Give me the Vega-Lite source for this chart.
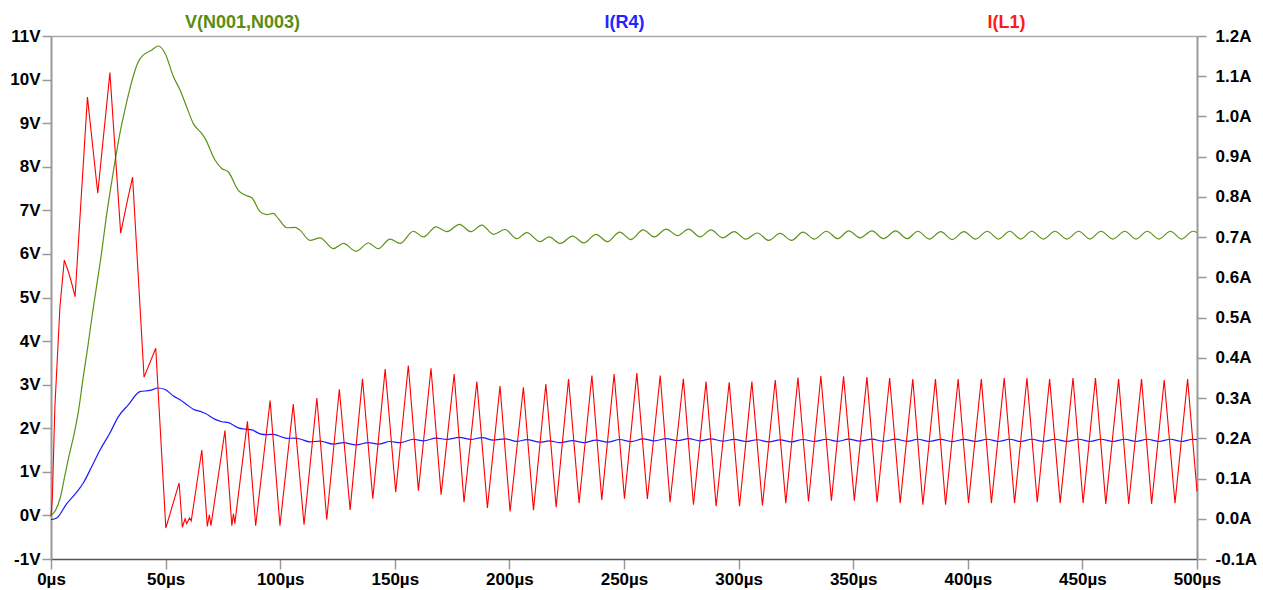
{
  "$schema": "https://vega.github.io/schema/vega-lite/v6.json",
  "autosize": {"type": "none"},
  "padding": {"left": 51, "top": 36, "right": 66, "bottom": 31},
  "width": 1146,
  "height": 523,
  "background": "white",
  "config": {
    "view": {"stroke": null},
    "font": "Liberation Sans",
    "axis": {"labelFont": "Liberation Sans", "labelFontSize": 17, "labelFontWeight": "bold", "labelColor": "#000000", "grid": false, "title": null, "tickColor": "#999999", "domainColor": "#999999", "labelFlush": false, "labelOverlap": false, "labelBound": false}
  },
  "datasets": {
    "green": [
      {"t":0,"v":0},{"t":2,"v":0.12},{"t":4,"v":0.4},{"t":6,"v":0.9},{"t":8,"v":1.4},{"t":10,"v":1.85},{"t":12,"v":2.4},{"t":14,"v":3.15},{"t":16,"v":3.85},{"t":18,"v":4.6},{"t":20,"v":5.3},{"t":22,"v":6.0},{"t":24,"v":6.8},{"t":26,"v":7.5},{"t":28,"v":8.15},{"t":30,"v":8.75},{"t":32,"v":9.25},{"t":34,"v":9.7},{"t":36,"v":10.1},{"t":38,"v":10.4},{"t":40,"v":10.55},{"t":42,"v":10.62},{"t":44,"v":10.68},{"t":46.8,"v":10.77},{"t":49.8,"v":10.6},{"t":53.4,"v":10.07},{"t":56.3,"v":9.76},{"t":59,"v":9.4},{"t":62.1,"v":8.99},{"t":65.8,"v":8.76},{"t":67.2,"v":8.65},{"t":71.6,"v":8.15},{"t":74.5,"v":7.96},{"t":77.4,"v":7.88},{"t":81.7,"v":7.46},{"t":84.7,"v":7.35},{"t":87.6,"v":7.29},{"t":91.2,"v":6.97},{"t":94.1,"v":6.9},{"t":97,"v":6.93},{"t":99.2,"v":6.81},{"t":102.9,"v":6.6},{"t":106.5,"v":6.61},{"t":108.7,"v":6.54},{"t":113,"v":6.31},{"t":117.4,"v":6.37},{"t":123.2,"v":6.12},{"t":127.6,"v":6.24},{"t":133.1,"v":6.06},{"t":138.5,"v":6.25},{"t":142.8,"v":6.12},{"t":147.9,"v":6.34},{"t":152.3,"v":6.24},{"t":158.1,"v":6.52},{"t":162.5,"v":6.39},{"t":168,"v":6.62},{"t":172.7,"v":6.51},{"t":178.2,"v":6.68},{"t":183.2,"v":6.51},{"t":188,"v":6.66},{"t":193,"v":6.45},{"t":198.1,"v":6.56},{"t":203.2,"v":6.35},{"t":207.6,"v":6.49},{"t":213.4,"v":6.28},{"t":217.3,"v":6.39},{"t":222.2,"v":6.24},{"t":227.5,"v":6.41},{"t":232.5,"v":6.25},{"t":237.8,"v":6.45},{"t":242.8,"v":6.28},{"t":248.1,"v":6.5},{"t":253.1,"v":6.33},{"t":258.3,"v":6.55},{"t":263.3,"v":6.39},{"t":268.4,"v":6.57},{"t":273.4,"v":6.42},{"t":278.2,"v":6.57},{"t":283.2,"v":6.39},{"t":288,"v":6.55},{"t":293,"v":6.37},{"t":298.1,"v":6.51},{"t":303.1,"v":6.34},{"t":308.2,"v":6.48},{"t":313.2,"v":6.31},{"t":318.1,"v":6.47},{"t":323.1,"v":6.31},{"t":328.1,"v":6.5},{"t":333.1,"v":6.34},{"t":338.3,"v":6.52},{"t":343.3,"v":6.35},{"t":348,"v":6.53},{"t":353,"v":6.37},{"t":358.2,"v":6.53},{"t":363.2,"v":6.35},{"t":368.5,"v":6.53},{"t":373.5,"v":6.35},{"t":378.2,"v":6.52},{"t":383.2,"v":6.34},{"t":388.2,"v":6.51},{"t":393.2,"v":6.33},{"t":398.3,"v":6.51},{"t":403.4,"v":6.34},{"t":408.5,"v":6.52},{"t":413.4,"v":6.34},{"t":418.3,"v":6.52},{"t":423.1,"v":6.34},{"t":427.9,"v":6.52},{"t":433,"v":6.34},{"t":438,"v":6.52},{"t":443.2,"v":6.34},{"t":448.4,"v":6.52},{"t":453.3,"v":6.34},{"t":458.1,"v":6.52},{"t":463.3,"v":6.34},{"t":468.5,"v":6.52},{"t":473.4,"v":6.34},{"t":478.3,"v":6.52},{"t":483.4,"v":6.34},{"t":488.4,"v":6.52},{"t":493.3,"v":6.34},{"t":498.2,"v":6.52},{"t":500,"v":6.49}
    ],
    "blue": [
      {"t":0,"a":-0.002},{"t":2.5,"a":0.002},{"t":6.8,"a":0.037},{"t":11.2,"a":0.066},{"t":14.1,"a":0.089},{"t":17.8,"a":0.13},{"t":21.4,"a":0.171},{"t":25.7,"a":0.213},{"t":29.4,"a":0.254},{"t":33.7,"a":0.283},{"t":38.8,"a":0.316},{"t":43.2,"a":0.319},{"t":46.8,"a":0.325},{"t":49.8,"a":0.3212},{"t":53.4,"a":0.3052},{"t":56.3,"a":0.2958},{"t":59,"a":0.2848},{"t":62.1,"a":0.2724},{"t":65.8,"a":0.2655},{"t":67.2,"a":0.2621},{"t":71.6,"a":0.247},{"t":74.5,"a":0.2412},{"t":77.4,"a":0.2388},{"t":81.7,"a":0.2261},{"t":84.7,"a":0.2227},{"t":87.6,"a":0.2209},{"t":91.2,"a":0.2112},{"t":94.1,"a":0.2091},{"t":97,"a":0.21},{"t":99.2,"a":0.2064},{"t":102.9,"a":0.2},{"t":106.5,"a":0.2003},{"t":108.7,"a":0.1982},{"t":113,"a":0.1912},{"t":117.4,"a":0.193},{"t":123.2,"a":0.1855},{"t":127.6,"a":0.1891},{"t":133.1,"a":0.1836},{"t":138.5,"a":0.1894},{"t":142.8,"a":0.1855},{"t":147.9,"a":0.1921},{"t":152.3,"a":0.1891},{"t":158.1,"a":0.1976},{"t":162.5,"a":0.1936},{"t":168,"a":0.2006},{"t":172.7,"a":0.1973},{"t":178.2,"a":0.2024},{"t":183.2,"a":0.1973},{"t":188,"a":0.2018},{"t":193,"a":0.1955},{"t":198.1,"a":0.1988},{"t":203.2,"a":0.1924},{"t":207.6,"a":0.1967},{"t":213.4,"a":0.1903},{"t":217.3,"a":0.1936},{"t":222.2,"a":0.1891},{"t":227.5,"a":0.1942},{"t":232.5,"a":0.1894},{"t":237.8,"a":0.1955},{"t":242.8,"a":0.1903},{"t":248.1,"a":0.197},{"t":253.1,"a":0.1918},{"t":258.3,"a":0.1985},{"t":263.3,"a":0.1936},{"t":268.4,"a":0.1991},{"t":273.4,"a":0.1945},{"t":278.2,"a":0.1991},{"t":283.2,"a":0.1936},{"t":288,"a":0.1985},{"t":293,"a":0.193},{"t":298.1,"a":0.1973},{"t":303.1,"a":0.1921},{"t":308.2,"a":0.1964},{"t":313.2,"a":0.1912},{"t":318.1,"a":0.1961},{"t":323.1,"a":0.1912},{"t":328.1,"a":0.197},{"t":333.1,"a":0.1921},{"t":338.3,"a":0.1976},{"t":343.3,"a":0.1924},{"t":348,"a":0.1979},{"t":353,"a":0.193},{"t":358.2,"a":0.1979},{"t":363.2,"a":0.1924},{"t":368.5,"a":0.1979},{"t":373.5,"a":0.1924},{"t":378.2,"a":0.1976},{"t":383.2,"a":0.1921},{"t":388.2,"a":0.1973},{"t":393.2,"a":0.1918},{"t":398.3,"a":0.1973},{"t":403.4,"a":0.1921},{"t":408.5,"a":0.1976},{"t":413.4,"a":0.1921},{"t":418.3,"a":0.1976},{"t":423.1,"a":0.1921},{"t":427.9,"a":0.1976},{"t":433,"a":0.1921},{"t":438,"a":0.1976},{"t":443.2,"a":0.1921},{"t":448.4,"a":0.1976},{"t":453.3,"a":0.1921},{"t":458.1,"a":0.1976},{"t":463.3,"a":0.1921},{"t":468.5,"a":0.1976},{"t":473.4,"a":0.1921},{"t":478.3,"a":0.1976},{"t":483.4,"a":0.1921},{"t":488.4,"a":0.1976},{"t":493.3,"a":0.1921},{"t":498.2,"a":0.1976},{"t":500,"a":0.1967}
    ],
    "red": [
      {"t":0,"a":0.006},{"t":0.6,"a":0.055},{"t":1.7,"a":0.279},{"t":3.9,"a":0.527},{"t":5.8,"a":0.643},{"t":7.6,"a":0.614},{"t":9.0,"a":0.586},{"t":10.5,"a":0.552},{"t":15.9,"a":1.048},{"t":20.4,"a":0.809},{"t":25.7,"a":1.109},{"t":30.4,"a":0.71},{"t":33.3,"a":0.79},{"t":35.6,"a":0.849},{"t":40.6,"a":0.352},{"t":45.7,"a":0.424},{"t":50.1,"a":-0.023},{"t":55.9,"a":0.089},{"t":57.3,"a":-0.021},{"t":58.5,"a":0.0},{"t":59.2,"a":-0.012},{"t":60.5,"a":0.002},{"t":61.2,"a":-0.005},{"t":65.8,"a":0.171},{"t":68.2,"a":-0.019},{"t":69.1,"a":0.01},{"t":69.8,"a":-0.017},{"t":75.9,"a":0.219},{"t":78.9,"a":-0.017},{"t":79.6,"a":0.012},{"t":80.2,"a":-0.012},{"t":85.7,"a":0.242},{"t":89.3,"a":-0.017},{"t":95.6,"a":0.294},{"t":99.9,"a":-0.017},{"t":105.7,"a":0.285},{"t":110.4,"a":-0.015},{"t":116.0,"a":0.3},{"t":120.3,"a":-0.002},{"t":125.8,"a":0.322},{"t":130.5,"a":0.022},{"t":135.9,"a":0.348},{"t":140.4,"a":0.05},{"t":145.8,"a":0.372},{"t":150.4,"a":0.066},{"t":155.9,"a":0.381},{"t":160.3,"a":0.07},{"t":165.8,"a":0.374},{"t":170.2,"a":0.06},{"t":175.9,"a":0.36},{"t":180.2,"a":0.041},{"t":185.8,"a":0.341},{"t":190.4,"a":0.027},{"t":195.9,"a":0.33},{"t":200.3,"a":0.018},{"t":206.1,"a":0.327},{"t":210.5,"a":0.021},{"t":215.9,"a":0.335},{"t":220.4,"a":0.029},{"t":225.8,"a":0.347},{"t":230.4,"a":0.039},{"t":236.0,"a":0.356},{"t":240.3,"a":0.047},{"t":245.7,"a":0.36},{"t":250.2,"a":0.05},{"t":255.6,"a":0.362},{"t":260.2,"a":0.049},{"t":265.8,"a":0.356},{"t":270.1,"a":0.041},{"t":275.9,"a":0.348},{"t":280.3,"a":0.035},{"t":285.8,"a":0.341},{"t":290.2,"a":0.031},{"t":295.9,"a":0.339},{"t":300.4,"a":0.031},{"t":305.8,"a":0.341},{"t":310.4,"a":0.033},{"t":316.0,"a":0.345},{"t":320.6,"a":0.039},{"t":325.9,"a":0.351},{"t":330.5,"a":0.043},{"t":335.9,"a":0.355},{"t":340.5,"a":0.045},{"t":345.8,"a":0.354},{"t":350.5,"a":0.045},{"t":356.0,"a":0.352},{"t":360.4,"a":0.041},{"t":365.9,"a":0.35},{"t":370.5,"a":0.039},{"t":376.0,"a":0.347},{"t":380.4,"a":0.035},{"t":385.9,"a":0.347},{"t":390.3,"a":0.035},{"t":395.8,"a":0.347},{"t":400.3,"a":0.039},{"t":405.9,"a":0.347},{"t":410.3,"a":0.039},{"t":415.9,"a":0.35},{"t":420.4,"a":0.039},{"t":425.8,"a":0.35},{"t":430.3,"a":0.041},{"t":435.7,"a":0.347},{"t":440.3,"a":0.039},{"t":445.9,"a":0.35},{"t":450.3,"a":0.039},{"t":455.7,"a":0.35},{"t":460.2,"a":0.037},{"t":465.8,"a":0.347},{"t":470.2,"a":0.037},{"t":475.8,"a":0.347},{"t":480.2,"a":0.037},{"t":485.7,"a":0.345},{"t":490.4,"a":0.039},{"t":495.9,"a":0.347},{"t":500,"a":0.068}
    ],
    "labels": [{"name":"V(N001,N003)"},{"name":"I(R4)"},{"name":"I(L1)"}]
  },
  "layer": [
    {
      "layer": [
        {
          "data": {"name": "green"},
          "mark": {"type": "line", "interpolate": "monotone", "color": "#5b9216", "strokeWidth": 1.2},
          "encoding": {
            "x": {"field": "t", "type": "quantitative", "scale": {"domain": [0, 500], "nice": false, "zero": false},
                  "axis": {"orient": "bottom", "values": [0,50,100,150,200,250,300,350,400,450,500], "labelExpr": "datum.value + 'µs'", "tickSize": 10, "labelPadding": 2, "domainColor": "#555555", "domainWidth": 1.5, "tickColor": "#999999", "tickWidth": 1.5}},
            "y": {"field": "v", "type": "quantitative", "scale": {"domain": [-1, 11], "nice": false, "zero": false},
                  "axis": {"orient": "left", "values": [-1,0,1,2,3,4,5,6,7,8,9,10,11], "labelExpr": "datum.value + 'V'", "tickSize": 9, "labelPadding": 2, "domainWidth": 2, "tickWidth": 1.5}}
          }
        },
        {
          "data": {"name": "blue"},
          "mark": {"type": "line", "interpolate": "monotone", "color": "#1a1aff", "strokeWidth": 1.2},
          "encoding": {
            "x": {"field": "t", "type": "quantitative"},
            "y": {"field": "a", "type": "quantitative", "scale": {"domain": [-0.1, 1.2], "nice": false, "zero": false}, "axis": null}
          }
        },
        {
          "data": {"name": "red"},
          "mark": {"type": "line", "color": "#ff0000", "strokeWidth": 1.1},
          "encoding": {
            "x": {"field": "t", "type": "quantitative"},
            "y": {"field": "a", "type": "quantitative", "scale": {"domain": [-0.1, 1.2], "nice": false, "zero": false},
                  "axis": {"orient": "right", "values": [-0.1,0,0.1,0.2,0.3,0.4,0.5,0.6,0.7,0.8,0.9,1.0,1.1,1.2], "labelExpr": "(datum.value < 0 ? '-' : '') + format(abs(datum.value), '.1f') + 'A'", "tickSize": 9, "labelPadding": 9, "domainWidth": 2, "tickWidth": 1.5}}
          }
        }
      ],
      "resolve": {"scale": {"y": "independent"}, "axis": {"y": "independent"}}
    },
    {
      "data": {"name": "labels"},
      "mark": {"type": "point", "opacity": 0},
      "encoding": {
        "x": {"field": "name", "type": "nominal", "sort": null,
              "scale": {"domain": ["V(N001,N003)", "I(R4)", "I(L1)"]},
              "axis": {"orient": "top", "ticks": false, "domain": true, "domainColor": "#aaaaaa", "domainWidth": 1.5, "labelAngle": 0, "labelPadding": 5, "labelFontSize": 18,
                       "labelColor": {"condition": [{"test": "datum.value === 'V(N001,N003)'", "value": "#5b8c10"}, {"test": "datum.value === 'I(R4)'", "value": "#2424ff"}], "value": "#ff1a1a"}}}
      }
    }
  ],
  "resolve": {"scale": {"x": "independent", "y": "independent"}, "axis": {"x": "independent", "y": "independent"}}
}
